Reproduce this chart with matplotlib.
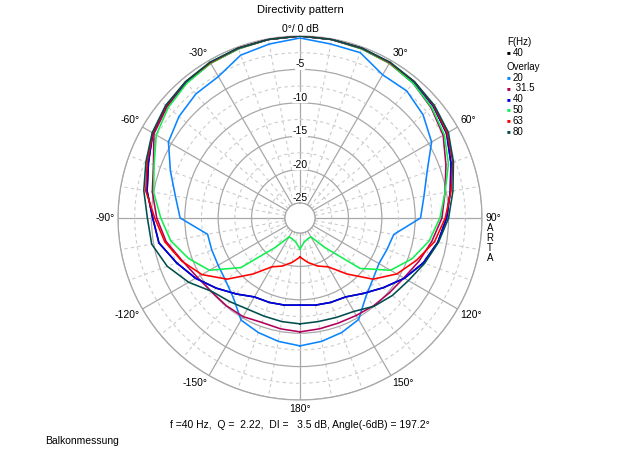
import numpy as np
import matplotlib
matplotlib.use("Agg")
import matplotlib.pyplot as plt

plt.rcParams['font.family'] = ['Liberation Sans', 'DejaVu Sans']

# ---------------- data ----------------
angles_deg = [-180, -170, -160, -150, -140, -130, -120, -110, -100, -90, -80, -70, -60,
              -50, -40, -30, -20, -10, 0, 10, 20, 30, 40, 50, 60, 70, 80, 90,
              100, 110, 120, 130, 140, 150, 160, 170, 180]

db_20 = [-8.1, -8.5, -9.0, -9.6, -11.7, -12.7, -13.1, -13.2, -13.2, -9.3, -8.3, -6.6, -4.5,
         -3.6, -3.0, -2.8, -1.3, -0.8, -0.3, -0.8, -0.9, -2.5, -2.4, -3.2, -4.5, -7.0, -8.4, -9.2,
         -13.0, -13.4, -13.6, -13.0, -11.9, -9.7, -9.0, -8.5, -8.1]
db_31_5 = [-10.2, -10.4, -10.6, -10.2, -10.1, -10.0, -9.5, -8.5, -6.9, -5.8, -4.8, -3.9, -2.0,
           -1.3, -0.8, -0.5, -0.3, -0.1, 0.0, -0.1, -0.3, -0.5, -0.9, -1.6, -2.5, -4.0, -5.2, -6.0,
           -7.2, -8.3, -9.3, -9.8, -10.1, -10.4, -10.5, -10.4, -10.2]
db_40 = [-14.2, -14.0, -13.8, -13.6, -12.4, -10.9, -9.2, -7.6, -5.8, -5.2, -4.0, -3.1, -1.8,
         -1.1, -0.7, -0.4, -0.2, -0.1, 0.0, -0.1, -0.2, -0.4, -0.7, -1.2, -1.9, -3.2, -4.4, -5.3,
         -6.3, -7.6, -9.2, -11.0, -12.5, -13.6, -13.8, -14.0, -14.2]
db_50 = [-22.6, -23.6, -23.9, -24.0, -21.5, -15.7, -11.6, -9.5, -7.6, -6.4, -5.0, -4.0, -2.4,
         -1.5, -0.9, -0.5, -0.3, -0.1, 0.0, -0.1, -0.3, -0.5, -0.9, -1.5, -2.3, -3.6, -5.2, -6.3,
         -7.6, -9.4, -11.6, -15.5, -21.5, -24.0, -23.9, -23.6, -22.6]
db_63 = [-21.4, -20.5, -19.6, -18.8, -16.3, -13.0, -10.3, -8.4, -6.7, -5.5, -3.8, -2.9, -1.8,
         -1.1, -0.6, -0.4, -0.2, -0.1, 0.0, -0.1, -0.2, -0.4, -0.6, -1.1, -1.8, -2.9, -4.3, -5.5,
         -6.8, -8.7, -10.5, -13.0, -16.3, -18.8, -19.6, -20.5, -21.4]
db_80 = [-11.4, -11.5, -11.6, -11.5, -10.9, -10.1, -8.0, -6.1, -4.7, -4.4, -3.5, -2.7, -1.7,
         -1.0, -0.6, -0.3, -0.2, -0.1, 0.0, -0.1, -0.2, -0.3, -0.6, -1.0, -1.6, -2.8, -4.0, -5.0,
         -6.2, -7.4, -8.5, -9.2, -10.0, -11.1, -11.4, -11.5, -11.4]
db_main_40 = db_40

overlay_labels = ['20', ' 31.5', '40', '50', '63', '80']
overlay_values = [db_20, db_31_5, db_40, db_50, db_63, db_80]
overlay_colors = ['#0A84FF', '#B0005C', '#0000F0', '#10F050', '#FF0000', '#004E4E']

major_rings = [-25, -20, -15, -10, -5, 0]
minor_rings = [-22.5, -17.5, -12.5, -7.5, -2.5]
ring_labels = ['-25', '-20', '-15', '-10', '-5']
angle_ticks = [0, 30, 60, 90, 120, 150, 180, -150, -120, -90, -60, -30]
angle_labels = ['0°/ 0 dB', '30°', '60°', '90°', '120°', '150°', '180°',
                '-150°', '-120°', '-90°', '-60°', '-30°']

info_text = 'f =40 Hz,  Q =  2.22,  DI =   3.5 dB, Angle(-6dB) = 197.2°'

# ---------------- figure ----------------
fig = plt.figure(figsize=(6.4, 4.51), dpi=100)
ax = fig.add_axes([0.184375, 0.1131, 0.56875, 0.8071], projection='polar')
ax.set_theta_zero_location('N')
ax.set_theta_direction(-1)
ax.set_ylim(-25, 0)
ax.set_rorigin(-27.25)

grid_major = '#a8a8a8'
grid_minor = '#cccccc'

ax.set_xticks(np.deg2rad(np.arange(0, 360, 30)))
ax.set_xticklabels([])
ax.set_xticks(np.deg2rad([a for a in range(0, 360, 10) if a % 30 != 0]), minor=True)
ax.set_yticks(major_rings)
ax.set_yticklabels([])
ax.set_yticks(minor_rings, minor=True)
ax.tick_params(axis='both', which='both', length=0)
ax.xaxis.grid(True, which='major', color=grid_major, lw=0.9, ls='-')
ax.xaxis.grid(True, which='minor', color=grid_minor, lw=0.8, ls=(0, (3, 3)))
ax.yaxis.grid(True, which='major', color=grid_major, lw=0.9, ls='-')
ax.yaxis.grid(True, which='minor', color=grid_minor, lw=0.8, ls=(0, (3, 3)))
for sp in ax.spines.values():
    sp.set_color(grid_major)
    sp.set_linewidth(0.9)

th = np.deg2rad(angles_deg)
ax.plot(th, db_main_40, color='black', lw=1.15, zorder=3)
for vals, col in zip(overlay_values, overlay_colors):
    ax.plot(th, vals, color=col, lw=1.15, zorder=4)

fs = 7.5
# angle labels
for a, lab in zip(angle_ticks, angle_labels):
    t = np.deg2rad(a)
    if a == 0:
        ax.text(t, 0.35, lab, ha='center', va='bottom', fontsize=fs, clip_on=False)
    elif a == 180:
        ax.text(t, 0.6, lab, ha='center', va='top', fontsize=fs, clip_on=False)
    else:
        ha = 'left' if a > 0 else 'right'
        if abs(a) < 90:
            va = 'bottom'
        elif abs(a) == 90:
            va = 'center'
        else:
            va = 'top'
        ax.text(t, 0.45, lab, ha=ha, va=va, fontsize=fs, clip_on=False)

fig.text(490 / 640, 1 - 223 / 451, 'A\nR\nT\nA', ha='center', va='top',
         fontsize=7, linespacing=0.98)

# ring labels
for rv, lab in zip(major_rings[:-1], ring_labels):
    ax.text(0, rv + 0.75, lab, ha='center', va='center', fontsize=fs,
            bbox=dict(facecolor='white', edgecolor='none', pad=0.3), zorder=2)

fig.text(0.46875, 0.977, 'Directivity pattern', ha='center', va='center', fontsize=8)
fig.text(0.468, 0.057, info_text, ha='center', va='center', fontsize=7.5)
fig.text(0.070, 0.022, 'Balkonmessung', ha='left', va='center', fontsize=7.5)

# legend
lx = 0.792
ly0 = 1 - 42 / 451
dy = 10.8 / 451
fig.text(lx, ly0, 'F(Hz)', ha='left', va='center', fontsize=7)
fig.text(lx, ly0 - dy, '■', ha='left', va='center', fontsize=4.5, color='black')
fig.text(lx + 0.009, ly0 - dy, '40', ha='left', va='center', fontsize=7)
fig.text(lx, ly0 - 2.3 * dy, 'Overlay', ha='left', va='center', fontsize=7)
for i, (lab, col) in enumerate(zip(overlay_labels, overlay_colors)):
    y = ly0 - (3.3 + i) * dy
    fig.text(lx, y, '■', ha='left', va='center', fontsize=4.5, color=col)
    fig.text(lx + 0.009, y, lab, ha='left', va='center', fontsize=7)

fig.savefig('out.png', dpi=100)
